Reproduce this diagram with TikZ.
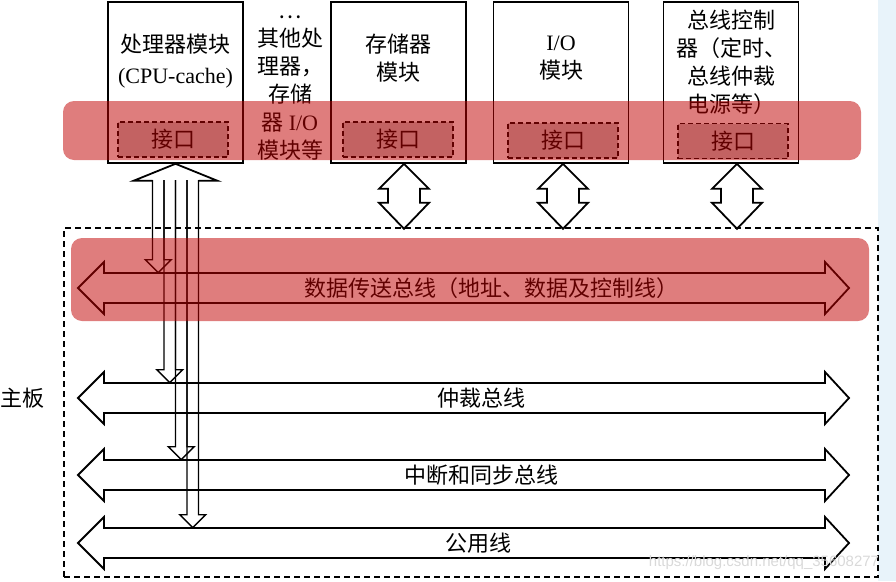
\documentclass[tikz,border=0pt]{standalone}
\usepackage{fontspec}
\setmainfont{Liberation Serif}
\newfontfamily\cjk{Noto Sans CJK SC}
\newfontfamily\wmfont{Liberation Sans}
\usepackage{xcolor}
\usepackage{tikz}
\usetikzlibrary{calc}

\definecolor{bandred}{RGB}{192,0,0}
\definecolor{ifgray}{RGB}{200,200,200}
\definecolor{bgblue}{RGB}{232,243,250}

\begin{document}
\begin{tikzpicture}[x=1pt, y=-1pt, line width=1.6pt,
  modbox/.style={draw, fill=white, minimum width=135pt, minimum height=161pt, inner sep=0pt},
  modtext/.style={align=center, inner sep=0pt, font=\cjk\fontsize{22}{28}\selectfont},
  ifbox/.style={draw, dash pattern=on 5pt off 3pt, line width=1.2pt, fill=ifgray,
    minimum width=110pt, minimum height=35pt, inner sep=0pt, font=\cjk\fontsize{22}{26}\selectfont},
  blockarrow/.style={line width=1.8pt},
  thinarrow/.style={line width=1.4pt},
  buslabel/.style={inner sep=0pt, minimum height=29pt, font=\cjk\fontsize{22}{26}\selectfont},
  band/.style={fill=bandred, fill opacity=0.51, rounded corners=11pt}]
\useasboundingbox (0,0) rectangle (896,581);
\fill[bgblue] (878,0) rectangle (896,581);

\node[draw, dash pattern=on 6pt off 4pt, line width=1.2pt, minimum width=814pt, minimum height=349pt, inner sep=0pt] (board) at (471,402.5) {};
\node[font=\cjk\fontsize{22}{26}\selectfont] (boardlbl) at (22,398) {主板};

\node[modbox] (cpu) at (175.5,82.5) {};
\node[modbox] (stor) at (398.5,82.5) {};
\node[modbox] (io) at (561,82.5) {};
\node[modbox] (ctrl) at (731,82.5) {};

\node[modtext, font=\cjk\fontsize{22}{31}\selectfont] (cputxt) at (175.5,61) {处理器模块\\{\rmfamily (CPU-cache)}};
\node[modtext] (others) at (290,88.5) {…\\其他处\\理器，\\存储\\器 {\rmfamily I/O}\\模块等};
\node[modtext] (stortxt) at (398.5,58.5) {存储器\\模块};
\node[modtext] (iotxt) at (561,58.5) {{\rmfamily I/O}\\模块};
\node[modtext] (ctrltxt) at (731,62.5) {总线控制\\器（定时、\\总线仲裁\\电源等）};

\node[ifbox] (cpuif) at (173,139.5) {接口};
\node[ifbox] (storif) at (398,139.5) {接口};
\node[ifbox] (ioif) at (563,140.5) {接口};
\node[ifbox] (ctrlif) at (733,141) {接口};

\foreach \m/\dx in {stor/5.5, io/2, ctrl/6}
  \draw[blockarrow] ($(\m.south)+(\dx,0)$) -- ++(25,25) -- ++(-9,0) -- ++(0,14) -- ++(9,0) -- ++(-25,26)
    -- ++(-25,-26) -- ++(9,0) -- ++(0,-14) -- ++(-9,0) -- cycle;

\foreach \y in {288, 398, 475, 543}
  \draw[blockarrow] (78,\y) -- ++(26,-26) -- ++(0,11) -- ++(721,0) -- ++(0,-11) -- ++(24,26)
    -- ++(-24,26) -- ++(0,-11) -- ++(-721,0) -- ++(0,11) -- cycle;

\node[buslabel] (databus) at (491,288) {数据传送总线（地址、数据及控制线）};
\node[buslabel] (arb) at (481,398) {仲裁总线};
\node[buslabel] (intr) at (481,475) {中断和同步总线};
\node[buslabel] (comm) at (478,543) {公用线};

\draw[blockarrow] ($(cpu.south)+(-23,17)$) -- ++(-19,0) -- (cpu.south) -- ++(42,17) -- ++(-19,0);
\foreach \nm [count=\i from 0] in {databus, arb, intr, comm} {
  \coordinate (s) at (158.25+11.5*\i,180);
  \coordinate (t) at (s |- \nm.north);
  \draw[thinarrow] ($(s)+(-5.75,0)$) -- ($(t)+(-5.75,-13)$) -- ($(t)+(-13,-13)$) -- (t)
    -- ($(t)+(13,-13)$) -- ($(t)+(5.75,-13)$) -- ($(s)+(5.75,0)$);
}

\fill[band] (63,101) rectangle (861,160);
\fill[band] (71,238) rectangle (869,321);

\node[font=\wmfont\fontsize{15}{15}\selectfont, text=gray!30] (wm) at (764,563) {https://blog.csdn.net/qq\_35608277};
\end{tikzpicture}
\end{document}
